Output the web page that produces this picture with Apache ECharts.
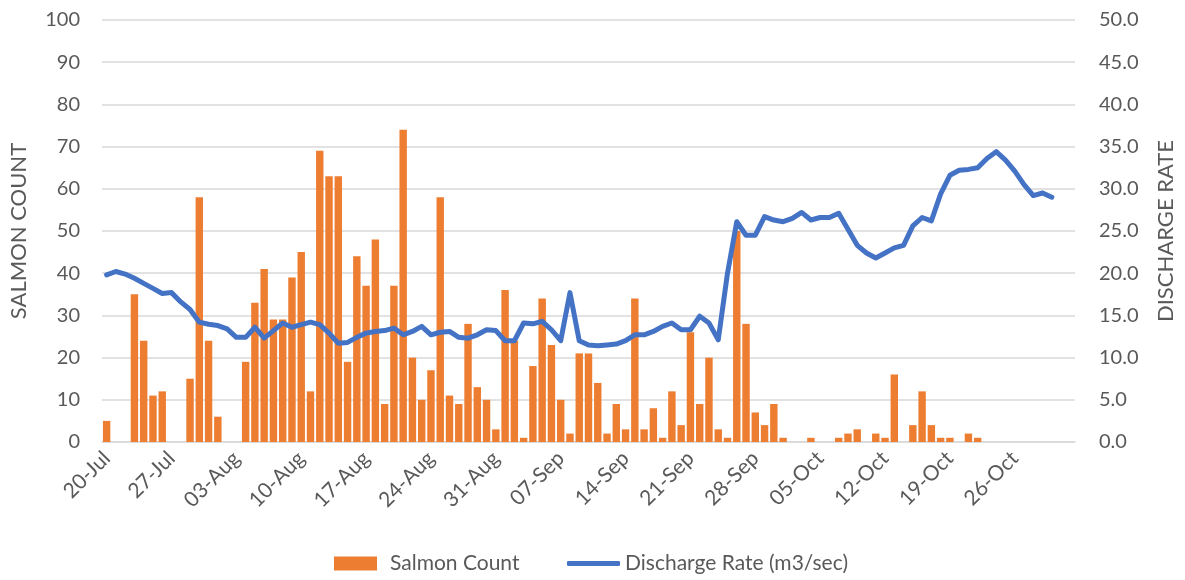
<!DOCTYPE html>
<html>
<head>
<meta charset="utf-8">
<script src="https://cdn.jsdelivr.net/npm/echarts@6/dist/echarts.min.js"></script>
<style>
  html, body { margin: 0; padding: 0; background: #fff; }
  #chart { width: 1185px; height: 580px; }
</style>
</head>
<body>
<div id="chart"></div>
<script>
// daily dates, 20-Jul .. 01-Nov
const dates = [
  '20-Jul','21-Jul','22-Jul','23-Jul','24-Jul','25-Jul','26-Jul','27-Jul','28-Jul','29-Jul','30-Jul','31-Jul',
  '01-Aug','02-Aug','03-Aug','04-Aug','05-Aug','06-Aug','07-Aug','08-Aug','09-Aug','10-Aug','11-Aug','12-Aug',
  '13-Aug','14-Aug','15-Aug','16-Aug','17-Aug','18-Aug','19-Aug','20-Aug','21-Aug','22-Aug','23-Aug','24-Aug',
  '25-Aug','26-Aug','27-Aug','28-Aug','29-Aug','30-Aug','31-Aug',
  '01-Sep','02-Sep','03-Sep','04-Sep','05-Sep','06-Sep','07-Sep','08-Sep','09-Sep','10-Sep','11-Sep','12-Sep',
  '13-Sep','14-Sep','15-Sep','16-Sep','17-Sep','18-Sep','19-Sep','20-Sep','21-Sep','22-Sep','23-Sep','24-Sep',
  '25-Sep','26-Sep','27-Sep','28-Sep','29-Sep','30-Sep',
  '01-Oct','02-Oct','03-Oct','04-Oct','05-Oct','06-Oct','07-Oct','08-Oct','09-Oct','10-Oct','11-Oct','12-Oct',
  '13-Oct','14-Oct','15-Oct','16-Oct','17-Oct','18-Oct','19-Oct','20-Oct','21-Oct','22-Oct','23-Oct','24-Oct',
  '25-Oct','26-Oct','27-Oct','28-Oct','29-Oct','30-Oct','31-Oct','01-Nov'
];

// salmon count per day (left axis)
const salmonCount = [
  5, 0, 0, 35, 24, 11, 12, 0, 0, 15, 58, 24, 6, 0,
  0, 19, 33, 41, 29, 29, 39, 45, 12, 69, 63, 63, 19, 44,
  37, 48, 9, 37, 74, 20, 10, 17, 58, 11, 9, 28, 13, 10,
  3, 36, 24, 1, 18, 34, 23, 10, 2, 21, 21, 14, 2, 9,
  3, 34, 3, 8, 1, 12, 4, 26, 9, 20, 3, 1, 50, 28,
  7, 4, 9, 1, 0, 0, 1, 0, 0, 1, 2, 3, 0, 2,
  1, 16, 0, 4, 12, 4, 1, 1, 0, 2, 1, 0, 0, 0,
  0, 0, 0, 0, 0, 0, 0
];

// discharge rate per day (right axis, m3/sec)
const discharge = [
  19.8, 20.2, 19.9, 19.4, 18.8, 18.2, 17.6, 17.7, 16.6, 15.7, 14.2, 13.95, 13.8, 13.4,
  12.4, 12.4, 13.6, 12.3, 13.2, 14.1, 13.6, 13.9, 14.2, 13.9, 12.9, 11.7, 11.8, 12.4,
  12.9, 13.1, 13.2, 13.5, 12.7, 13.1, 13.7, 12.7, 13.0, 13.1, 12.4, 12.3, 12.7, 13.3,
  13.2, 12.0, 12.0, 14.1, 14.0, 14.3, 13.3, 12.0, 17.7, 12.0, 11.5, 11.4, 11.5, 11.6,
  12.0, 12.7, 12.7, 13.1, 13.7, 14.1, 13.3, 13.3, 14.9, 14.1, 12.1, 20.0, 26.1, 24.5,
  24.5, 26.7, 26.3, 26.1, 26.5, 27.2, 26.3, 26.6, 26.6, 27.1, 25.2, 23.3, 22.4, 21.8,
  22.4, 23.0, 23.3, 25.6, 26.6, 26.2, 29.4, 31.6, 32.2, 32.3, 32.5, 33.6, 34.4, 33.4,
  32.1, 30.5, 29.2, 29.5, 29.0, null, null
];

const FONT = 'Lato';
const TXT = '#595959';
const GRID = '#d9d9d9';
const ORANGE = '#ED7D31';
const BLUE = '#4472C4';

const chart = echarts.init(document.getElementById('chart'));
chart.setOption({
  animation: false,
  textStyle: { fontFamily: FONT },
  grid: { left: 102, right: 106, top: 20, bottom: 138 },
  legend: [
    {
      left: 334,
      top: 553,
      padding: 0,
      itemWidth: 43,
      itemHeight: 14,
      icon: 'rect',
      textStyle: { fontFamily: FONT, fontSize: 21, color: TXT, padding: [0, 0, 0, 8] },
      data: ['Salmon Count']
    },
    {
      left: 567,
      top: 553,
      padding: 0,
      itemWidth: 53,
      itemHeight: 5,
      icon: 'roundRect',
      textStyle: { fontFamily: FONT, fontSize: 21, color: TXT },
      data: ['Discharge Rate (m3/sec)']
    }
  ],
  xAxis: {
    type: 'category',
    data: dates,
    boundaryGap: true,
    axisLine: { lineStyle: { color: GRID, width: 1.5 } },
    axisTick: { interval: 6, length: 6, lineStyle: { color: GRID, width: 1.5 } },
    axisLabel: {
      interval: 6,
      rotate: 45,
      fontSize: 21,
      color: TXT,
      margin: 13
    }
  },
  yAxis: [
    {
      type: 'value',
      min: 0,
      max: 100,
      interval: 10,
      name: 'SALMON COUNT',
      nameLocation: 'middle',
      nameGap: 72,
      nameTextStyle: { fontSize: 22, color: TXT },
      axisLine: { show: false },
      axisTick: { show: false },
      axisLabel: { fontSize: 20, color: TXT, margin: 22 },
      splitLine: { lineStyle: { color: GRID, width: 1.5 } }
    },
    {
      type: 'value',
      min: 0,
      max: 50,
      interval: 5,
      name: 'DISCHARGE RATE',
      nameLocation: 'middle',
      nameGap: 80,
      nameRotate: 90,
      nameTextStyle: { fontSize: 22, color: TXT },
      axisLine: { show: false },
      axisTick: { show: false },
      axisLabel: {
        fontSize: 20,
        color: TXT,
        margin: 24,
        formatter: v => v.toFixed(1)
      },
      splitLine: { show: false }
    }
  ],
  series: [
    {
      name: 'Salmon Count',
      type: 'bar',
      yAxisIndex: 0,
      data: salmonCount,
      barCategoryGap: '20%',
      itemStyle: { color: ORANGE }
    },
    {
      name: 'Discharge Rate (m3/sec)',
      type: 'line',
      yAxisIndex: 1,
      data: discharge,
      showSymbol: false,
      symbol: 'none',
      lineStyle: { color: BLUE, width: 5, join: 'round', cap: 'round' },
      itemStyle: { color: BLUE }
    }
  ]
});
</script>
</body>
</html>
